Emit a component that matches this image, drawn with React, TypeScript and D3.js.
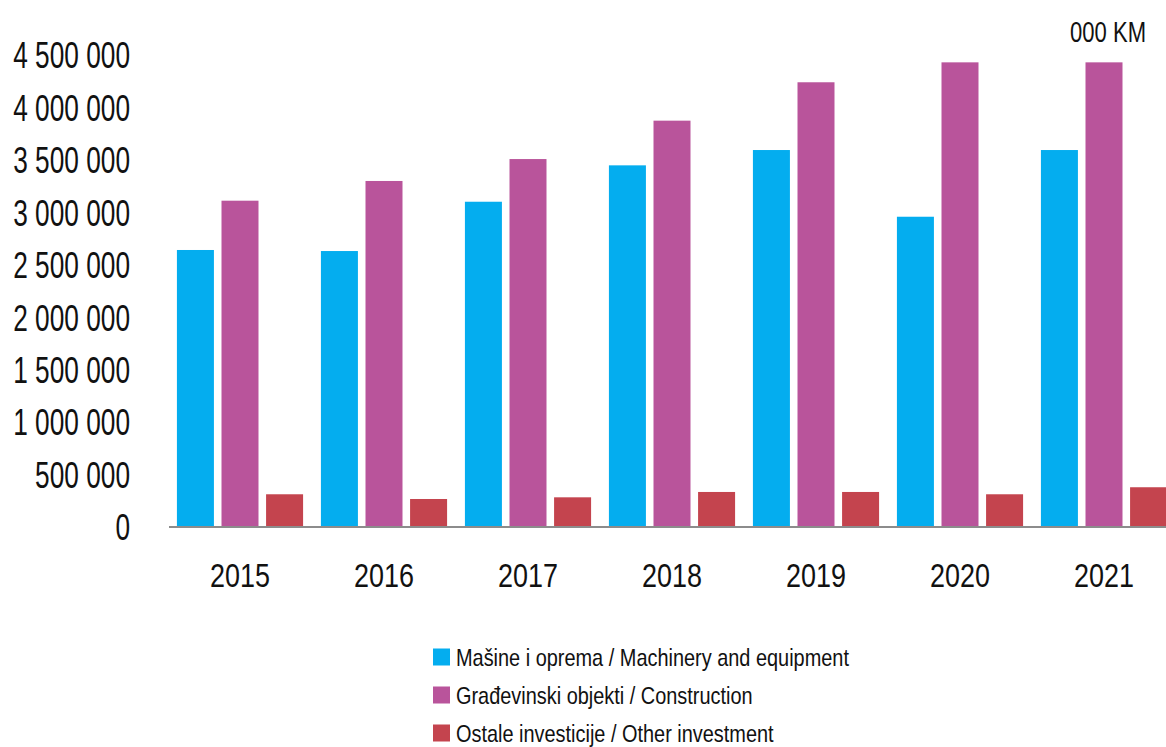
import React from "react";
import * as d3 from "d3";

const years = ["2015", "2016", "2017", "2018", "2019", "2020", "2021"];
const machinery = [2641000, 2631000, 3101000, 3448000, 3594000, 2958000, 3594000];
const construction = [3111000, 3299000, 3508000, 3874000, 4240000, 4430000, 4430000];
const other = [312000, 267000, 283000, 334000, 334000, 312000, 379000];
const seriesNames = [
  "Mašine i oprema / Machinery and equipment",
  "Građevinski objekti / Construction",
  "Ostale investicije / Other investment",
];
const seriesColors = ["#04ADEF", "#B9549B", "#C4444E"];
const yTicks = [0, 500000, 1000000, 1500000, 2000000, 2500000, 3000000, 3500000, 4000000, 4500000];
const unitLabel = "000 KM";

const W = 1166;
const H = 747;
const FONT = "'Liberation Sans', Arial, sans-serif";

function NText(props: {
  x: number;
  y: number;
  sx: number;
  size: number;
  anchor?: "start" | "middle" | "end";
  children: React.ReactNode;
}) {
  return (
    <g transform={`translate(${props.x},${props.y}) scale(${props.sx},1)`}>
      <text x={0} y={0} fontSize={props.size} textAnchor={props.anchor || "start"} fill="#111">
        {props.children}
      </text>
    </g>
  );
}

export default function App() {
  const series = [machinery, construction, other];
  const x0 = d3.scaleBand<string>().domain(years).range([168, 1176]).padding(0);
  const x1 = d3
    .scaleBand<number>()
    .domain([0, 1, 2])
    .range([0, x0.bandwidth()])
    .paddingInner(0.17)
    .paddingOuter(0.2);
  const y = d3.scaleLinear().domain([0, 4500000]).range([527, 55]);
  const fmt = (v: number) => d3.format(",")(v).replace(/,/g, " ");

  return (
    <svg
      width={W}
      height={H}
      style={{ position: "absolute", left: 0, top: 0, background: "#fff" }}
      fontFamily={FONT}
    >
      <rect x={0} y={0} width={W} height={H} fill="#fff" />
      {yTicks.map((t) => (
        <NText key={t} x={130} y={y(t) + 13.3} sx={0.71} size={37} anchor="end">
          {fmt(t)}
        </NText>
      ))}
      {years.map((yr, i) => (
        <g key={yr} transform={`translate(${x0(yr)},0)`}>
          {series.map((s, k) => (
            <rect
              key={k}
              x={x1(k)}
              y={y(s[i])}
              width={x1.bandwidth()}
              height={y(0) - y(s[i])}
              fill={seriesColors[k]}
            />
          ))}
          <NText x={x0.bandwidth() / 2} y={587} sx={0.805} size={33.5} anchor="middle">
            {yr}
          </NText>
        </g>
      ))}
      <line x1={169} x2={W} y1={y(0)} y2={y(0)} stroke="#8c8c8c" strokeWidth={2} />
      <NText x={1146} y={41.5} sx={0.735} size={30} anchor="end">
        {unitLabel}
      </NText>
      {seriesNames.map((name, k) => {
        const cy = 657 + k * 38;
        return (
          <g key={name}>
            <rect x={433} y={cy - 8.5} width={17} height={17} fill={seriesColors[k]} />
            <NText x={456} y={cy + 8.5} sx={0.83} size={24}>
              {name}
            </NText>
          </g>
        );
      })}
    </svg>
  );
}
